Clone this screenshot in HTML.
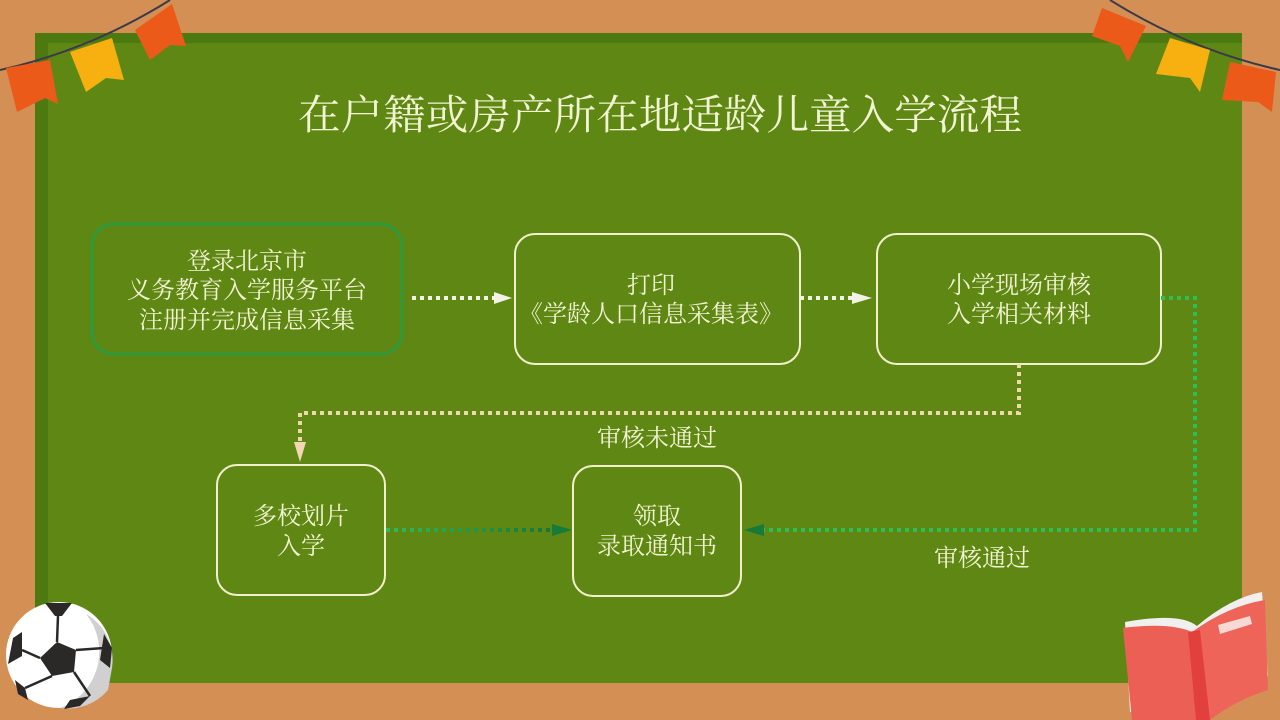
<!DOCTYPE html>
<html><head><meta charset="utf-8"><style>
html,body{margin:0;padding:0;width:1280px;height:720px;overflow:hidden;background:#d49054}
svg{display:block}
text{font-family:"Liberation Serif","Noto Serif CJK SC",serif;fill:#f2f4d2}
</style></head><body>
<svg width="1280" height="720" viewBox="0 0 1280 720" xmlns="http://www.w3.org/2000/svg">
<defs>
<linearGradient id="gg" gradientUnits="userSpaceOnUse" x1="386" y1="0" x2="556" y2="0"><stop offset="0" stop-color="#2fbd5a"/><stop offset="1" stop-color="#15733a"/></linearGradient>
</defs>
<rect width="1280" height="720" fill="#d49054"/>
<rect x="35" y="33" width="1207" height="650" fill="#4d7a10"/>
<rect x="48" y="43" width="1194" height="640" fill="#5f8714"/>

<!-- bunting left -->
<path d="M0 70 Q90 50 170 0" stroke="#3b3a4a" stroke-width="2" fill="none"/>
<path d="M6 68 L50 60 L58 104 L45 98 L17 112 Z" fill="#ec5a1a"/>
<path d="M70 52 L112 38 L124 80 L106 78 L86 92 Z" fill="#f7b00f"/>
<path d="M135 30 L172 4 L186 46 L170 45 L150 60 Z" fill="#ec5a1a"/>
<!-- bunting right -->
<path d="M1110 0 Q1190 50 1280 70" stroke="#3b3a4a" stroke-width="2" fill="none"/>
<path d="M1102 8 L1146 26 L1128 62 L1120 46 L1092 36 Z" fill="#ec5a1a"/>
<path d="M1170 38 L1210 50 L1200 92 L1190 78 L1156 74 Z" fill="#f7b00f"/>
<path d="M1230 62 L1276 72 L1272 112 L1258 102 L1222 100 Z" fill="#ec5a1a"/>

<!-- soccer ball -->
<circle cx="59" cy="655" r="53" fill="#fff"/>
<path d="M86 614 A53 53 0 0 1 112 668 L108 690 A53 53 0 0 1 60 708 A60 60 0 0 0 86 614Z" fill="#d0d0d0"/>
<polygon points="57,642 76,650 74,672 52,676 40,658" fill="#2b2828"/>
<path d="M45 603 L72 603 L62 616 L55 616 Z" fill="#2b2828"/>
<path d="M13 638 L22 632 L22 656 L8 664 Z" fill="#2b2828"/>
<path d="M104 634 L112 648 L110 668 L100 660 Z" fill="#2b2828"/>
<path d="M15 680 L25 688 L28 700 L18 694 Z" fill="#2b2828"/>
<path d="M70 700 L90 696 L80 706 L64 709 Z" fill="#2b2828"/>
<g stroke="#2b2828" stroke-width="2.5" fill="none">
<path d="M57 642 L58 616 M76 650 L104 648 M74 672 L90 696 M52 676 L25 688 M40 658 L22 650"/>
</g>

<!-- book -->
<path d="M1125 622 Q1180 612 1197 626 Q1230 598 1262 592 L1268 676 Q1240 690 1208 716 L1130 712 Z" fill="#f2f0ee"/>
<path d="M1123 628 Q1170 622 1192 632 L1200 720 L1132 720 Z" fill="#ec5f55"/>
<path d="M1192 632 Q1228 606 1265 600 L1268 690 Q1236 700 1210 720 L1200 720 Z" fill="#ef6459"/>
<path d="M1188 632 L1200 630 L1210 720 L1196 720 Z" fill="#e2403c"/>
<path d="M1218 625 L1250 616 L1252 624 L1220 634 Z" fill="#f6d8d4"/>

<!-- title -->
<text x="660" y="129" font-size="41" text-anchor="middle" textLength="724" lengthAdjust="spacingAndGlyphs">在户籍或房产所在地适龄儿童入学流程</text>

<!-- boxes -->
<rect x="92" y="224" width="310" height="130" rx="22" fill="none" stroke="#2f9a3c" stroke-width="3"/>
<rect x="515" y="234" width="285" height="130" rx="20" fill="none" stroke="#f2f0cc" stroke-width="2"/>
<rect x="877" y="234" width="284" height="130" rx="20" fill="none" stroke="#f2f0cc" stroke-width="2"/>
<rect x="217" y="465" width="168" height="130" rx="20" fill="none" stroke="#f2f0cc" stroke-width="2"/>
<rect x="573" y="466" width="168" height="130" rx="20" fill="none" stroke="#f2f0cc" stroke-width="2"/>

<g font-size="24" text-anchor="middle">
<text x="247" y="269">登录北京市</text>
<text x="247" y="298">义务教育入学服务平台</text>
<text x="247" y="328">注册并完成信息采集</text>
<text x="651" y="293">打印</text>
<text x="651" y="322">《学龄人口信息采集表》</text>
<text x="1019" y="293">小学现场审核</text>
<text x="1019" y="322">入学相关材料</text>
<text x="301" y="524">多校划片</text>
<text x="301" y="554">入学</text>
<text x="657" y="524">领取</text>
<text x="657" y="554">录取通知书</text>
<text x="657" y="446">审核未通过</text>
<text x="982" y="566">审核通过</text>
</g>

<!-- connectors -->
<g fill="none" stroke-width="4" stroke-dasharray="4 4">
<path d="M412 298 H494" stroke="#f2f2e6"/>
<path d="M800 298 H852" stroke="#f2f2e6"/>
<path d="M1019 364 V413 H300 V446" stroke="#efd9a8"/>
<path d="M386 530 H556" stroke="url(#gg)"/>
<path d="M1161 298 H1195 V530 H762" stroke="#2fbd5a"/>
</g>
<polygon points="494,292 512,298 494,304" fill="#f2f2e6"/>
<polygon points="852,292 872,298 852,304" fill="#f2f2e6"/>
<polygon points="294,442 306,442 300,462" fill="#f3d6b4"/>
<polygon points="552,524 572,530 552,536" fill="#157a3a"/>
<polygon points="764,524 744,530 764,536" fill="#157a3a"/>
</svg>
</body></html>
